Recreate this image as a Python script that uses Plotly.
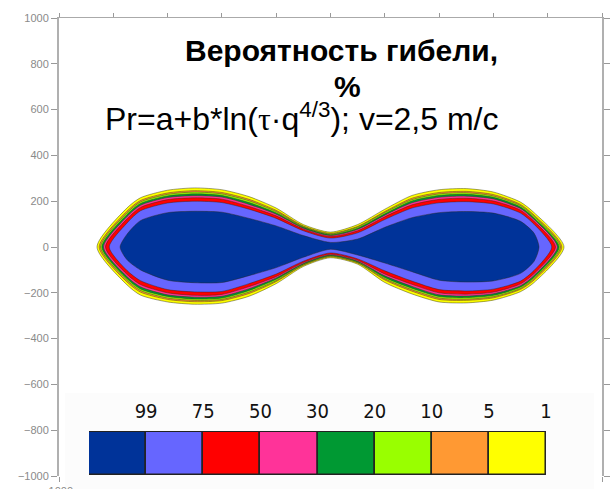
import plotly.graph_objects as go

# ---- contour bands, outer -> inner ----
stations = [-750, -700, -600, -500, -400, -300, -200, -100, 0, 100, 200, 300, 400, 500, 600, 700, 750]

level_labels = ["99", "75", "50", "30", "20", "10", "5", "1"]
level_colors = ["#003399", "#6666ff", "#ff0000", "#ff3399", "#009933", "#99ff00", "#ff9933", "#ffff00"]

# outermost region first (1 %) ... innermost (99 %)
tip_left = [-860, -852, -847, -842, -836, -829, -815, -775]
tip_right = [860, 852, 847, 842, 836, 829, 815, 768]

upper_1 = [170, 215, 248, 258, 250, 220, 170, 98, 65, 98, 165, 225, 250, 255, 240, 196, 150]
upper_5 = [156, 203, 236, 246, 238, 208, 160, 92, 60, 90, 155, 213, 238, 243, 229, 186, 139]
upper_10 = [149, 197, 230, 240, 232, 202, 155, 89, 57, 87, 151, 207, 232, 237, 223, 181, 134]
upper_20 = [141, 190, 223, 232, 225, 194, 149, 86, 54, 82, 145, 201, 225, 230, 217, 175, 127]
upper_30 = [132, 182, 216, 224, 218, 186, 143, 82, 50, 77, 139, 193, 217, 222, 210, 168, 120]
upper_50 = [122, 173, 207, 215, 209, 177, 136, 78, 46, 71, 132, 184, 208, 213, 201, 161, 112]
upper_75 = [104, 158, 192, 200, 194, 165, 125, 71, 39, 62, 120, 170, 193, 198, 188, 148, 99]
upper_99 = [55, 115, 150, 156, 152, 125, 92, 50, 20, 35, 86, 128, 150, 155, 148, 112, 60]

lower_1 = [-165, -210, -240, -250, -245, -215, -160, -85, -47, -75, -155, -205, -240, -244, -232, -195, -155]
lower_5 = [-152, -197, -229, -239, -234, -203, -151, -80, -43, -70, -144, -193, -229, -233, -222, -185, -144]
lower_10 = [-145, -190, -223, -233, -229, -197, -147, -78, -40, -68, -139, -187, -223, -228, -217, -181, -138]
lower_20 = [-138, -183, -216, -227, -223, -190, -141, -75, -38, -65, -133, -180, -216, -221, -211, -175, -132]
lower_30 = [-129, -174, -209, -219, -215, -182, -135, -72, -35, -62, -126, -172, -209, -214, -204, -169, -124]
lower_50 = [-119, -164, -200, -211, -207, -173, -129, -68, -32, -58, -118, -163, -200, -206, -197, -161, -116]
lower_75 = [-102, -147, -186, -196, -194, -160, -118, -62, -26, -52, -104, -149, -186, -192, -184, -149, -102]
lower_99 = [-55, -100, -145, -156, -155, -125, -90, -45, -10, -35, -70, -108, -145, -153, -148, -115, -62]

uppers = [upper_1, upper_5, upper_10, upper_20, upper_30, upper_50, upper_75, upper_99]
lowers = [lower_1, lower_5, lower_10, lower_20, lower_30, lower_50, lower_75, lower_99]
fill_colors = ["#ffff00", "#ff9933", "#99ff00", "#009933", "#ff3399", "#ff0000", "#6666ff", "#003399"]

y_ticks = [-1000, -800, -600, -400, -200, 0, 200, 400, 600, 800, 1000]
x_ticks = [-1000, -800, -600, -400, -200, 0, 200, 400, 600, 800, 1000]

fig = go.Figure()

for k in range(len(uppers)):
    xs = [tip_left[k]] + stations + [tip_right[k]] + stations[::-1] + [tip_left[k]]
    ys = [0] + uppers[k] + [0] + lowers[k][::-1] + [0]
    fig.add_trace(go.Scatter(
        x=xs, y=ys, mode="lines", fill="toself", fillcolor=fill_colors[k],
        line=dict(color="rgba(40,40,20,0.55)", width=0.8, shape="spline", smoothing=0.7),
        hoverinfo="skip", showlegend=False, xaxis="x", yaxis="y"))

# hidden trace for top axis
fig.add_trace(go.Scatter(x=[-1000, 1000], y=[0, 0], mode="markers", marker=dict(opacity=0),
                         xaxis="x3", yaxis="y", hoverinfo="skip", showlegend=False))

# legend boxes
fig.add_trace(go.Bar(
    x=[0.5 + i for i in range(8)], y=[1] * 8, width=1,
    marker=dict(color=level_colors, line=dict(color="#222222", width=1.5)),
    xaxis="x2", yaxis="y2", hoverinfo="skip", showlegend=False))

grey = "#8a8a8a"
fig.update_layout(
    width=610, height=489,
    margin=dict(l=59, r=8, t=18, b=13, autoexpand=False),
    paper_bgcolor="white", plot_bgcolor="rgba(0,0,0,0)",
    font=dict(family="Liberation Sans, Arial, sans-serif"),
    xaxis=dict(range=[-1000, 1000], showline=False, showgrid=False, zeroline=False,
               automargin=False,
               tickvals=[-1000, 1000], ticktext=["-1000", "1000"], ticks="outside",
               ticklen=5, tickcolor="#999", tickfont=dict(size=11, color=grey)),
    xaxis3=dict(range=[-1000, 1000], overlaying="x", side="top", anchor="y", automargin=False,
                showline=True, linecolor="#aaaaaa", linewidth=1, showgrid=False, zeroline=False,
                tickvals=x_ticks, ticks="outside", ticklen=4, tickcolor="#999",
                showticklabels=False),
    yaxis=dict(range=[-1000, 1000], showline=True, linecolor="#b0b0b0", linewidth=2,
               automargin=False,
               mirror="ticks", showgrid=False, zeroline=False, tickvals=y_ticks,
               ticks="outside", ticklen=6, tickcolor="#999",
               tickfont=dict(size=11, color=grey)),
    xaxis2=dict(domain=[0.0552, 0.897], range=[0, 8], anchor="y2", side="top", automargin=False,
                tickvals=[1, 2, 3, 4, 5, 6, 7, 8], ticktext=level_labels,
                ticks="outside", ticklen=4, tickcolor="rgba(0,0,0,0)",
                tickfont=dict(size=20, color="#111",
                              family="Liberation Sans Narrow, DejaVu Sans Condensed, Arial Narrow, sans-serif"),
                showline=False, showgrid=False, zeroline=False),
    yaxis2=dict(domain=[0, 0.098], range=[-0.02, 1.02], anchor="x2", visible=False, automargin=False),
    bargap=0,
    shapes=[dict(type="rect", xref="paper", yref="paper", x0=0.0112, x1=0.985,
                 y0=-0.03, y1=0.181, fillcolor="#fcfcfc", line=dict(width=0), layer="below")],
    annotations=[
        dict(text="<b>Вероятность гибели,</b>", xref="paper", yref="paper", x=0.521, y=0.928,
             xanchor="center", yanchor="middle", showarrow=False,
             font=dict(size=30, color="black")),
        dict(text="<b>%</b>", xref="paper", yref="paper", x=0.531, y=0.851,
             xanchor="center", yanchor="middle", showarrow=False,
             font=dict(size=30, color="black")),
        dict(text="Pr=a+b*ln(<span style=\"font-family:'Liberation Serif'\">τ</span>·q<sup>4/3</sup>); v=2,5 m/c",
             xref="paper", yref="paper", x=0.4466, y=0.784,
             xanchor="center", yanchor="middle", showarrow=False,
             font=dict(size=32, color="black")),
    ],
)

fig.write_html("out.html")
